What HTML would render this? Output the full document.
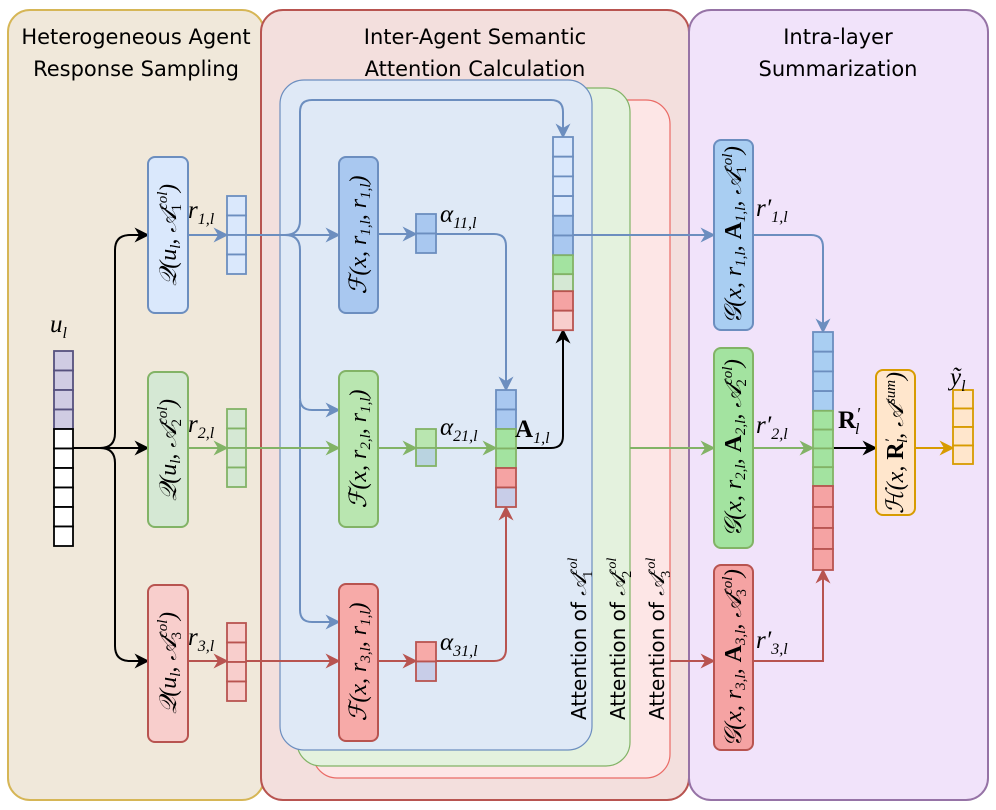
<!DOCTYPE html>
<html><head><meta charset="utf-8"><style>
body{margin:0;background:#fff}
svg{display:block}
.m{font-family:"Liberation Serif",serif;font-style:italic;fill:#000}
.t{font-family:"DejaVu Sans","Liberation Sans",sans-serif;fill:#000}
</style></head><body>
<svg width="996" height="810" viewBox="0 0 996 810" xmlns="http://www.w3.org/2000/svg">
<defs>
<marker id="ag" viewBox="0 0 10 10" refX="9" refY="5" markerWidth="15" markerHeight="15" orient="auto" markerUnits="userSpaceOnUse"><path d="M0,0 L10,5 L0,10 L3,5z" fill="#82b366"/></marker>
<marker id="ar" viewBox="0 0 10 10" refX="9" refY="5" markerWidth="15" markerHeight="15" orient="auto" markerUnits="userSpaceOnUse"><path d="M0,0 L10,5 L0,10 L3,5z" fill="#b85450"/></marker>
<marker id="ak" viewBox="0 0 10 10" refX="9" refY="5" markerWidth="15" markerHeight="15" orient="auto" markerUnits="userSpaceOnUse"><path d="M0,0 L10,5 L0,10 L3,5z" fill="#000"/></marker>
<marker id="ao" viewBox="0 0 10 10" refX="9" refY="5" markerWidth="15" markerHeight="15" orient="auto" markerUnits="userSpaceOnUse"><path d="M0,0 L10,5 L0,10 L3,5z" fill="#d79b00"/></marker>
<marker id="abl" viewBox="0 0 10 10" refX="9" refY="5" markerWidth="15" markerHeight="15" orient="auto" markerUnits="userSpaceOnUse"><path d="M0,0 L10,5 L0,10 L3,5z" fill="#6c8ebf"/></marker>
</defs>
<rect x="8" y="10" width="256" height="790" rx="22" fill="#f0e8da" stroke="#d6b656" stroke-width="2"/>
<rect x="261" y="10" width="428" height="790" rx="22" fill="#f3dfdd" stroke="#b85450" stroke-width="2"/>
<rect x="689" y="10" width="299" height="790" rx="22" fill="#f1e3fa" stroke="#9673a6" stroke-width="2"/>
<g class="t" style="font-size:21px">
<text x="136" y="44" text-anchor="middle">Heterogeneous Agent</text>
<text x="136" y="76" text-anchor="middle">Response Sampling</text>
<text x="475" y="44" text-anchor="middle">Inter-Agent Semantic</text>
<text x="475" y="76" text-anchor="middle">Attention Calculation</text>
<text x="838" y="44" text-anchor="middle">Intra-layer</text>
<text x="838" y="76" text-anchor="middle">Summarization</text>
</g>
<rect x="313" y="100" width="357" height="678" rx="24" fill="#fde6e6" stroke="#ea6b66" stroke-width="1.2"/>
<rect x="297" y="88" width="333" height="678" rx="24" fill="#e4f2de" stroke="#82b366" stroke-width="1.2"/>
<rect x="280" y="80" width="312" height="670" rx="24" fill="#dfe9f6" stroke="#6c8ebf" stroke-width="1.2"/>
<g class="t" style="font-size:20px">
<text transform="translate(586,720) rotate(-90)">Attention of <tspan font-family="Liberation Serif" font-style="italic" font-size="22">𝒜</tspan><tspan font-family="Liberation Serif" font-style="italic" font-size="14" dy="-9">col</tspan><tspan font-family="Liberation Serif" font-size="14" dx="-20" dy="15">1</tspan></text>
<text transform="translate(625,720) rotate(-90)">Attention of <tspan font-family="Liberation Serif" font-style="italic" font-size="22">𝒜</tspan><tspan font-family="Liberation Serif" font-style="italic" font-size="14" dy="-9">col</tspan><tspan font-family="Liberation Serif" font-size="14" dx="-20" dy="15">2</tspan></text>
<text transform="translate(664,720) rotate(-90)">Attention of <tspan font-family="Liberation Serif" font-style="italic" font-size="22">𝒜</tspan><tspan font-family="Liberation Serif" font-style="italic" font-size="14" dy="-9">col</tspan><tspan font-family="Liberation Serif" font-size="14" dx="-20" dy="15">3</tspan></text>
</g>
<g fill="none" stroke="#6c8ebf" stroke-width="2">
<path d="M188,235 H227" marker-end="url(#abl)"/>
<path d="M246,235 H339" marker-end="url(#abl)"/>
<path d="M285,235 Q300,235 300,220 V112 Q300,100 312,100 H551 Q563,100 563,112 V137" marker-end="url(#abl)"/>
<path d="M285,235 Q300,235 300,250 V398 Q300,410 312,410 H339" marker-end="url(#abl)"/>
<path d="M300,400 V610 Q300,622 312,622 H339" marker-end="url(#abl)"/>
<path d="M378,234 H416" marker-end="url(#abl)"/>
<path d="M436,234 H494 Q506,234 506,246 V390" marker-end="url(#abl)"/>
<path d="M573,235 H714" marker-end="url(#abl)"/>
<path d="M753,235 H811 Q823,235 823,247 V332" marker-end="url(#abl)"/>
</g>
<g fill="none" stroke="#82b366" stroke-width="2">
<path d="M188,448 H227" marker-end="url(#ag)"/>
<path d="M246,448 H339" marker-end="url(#ag)"/>
<path d="M378,448 H416" marker-end="url(#ag)"/>
<path d="M436,448 H496" marker-end="url(#ag)"/>
<path d="M630,448 H714" marker-end="url(#ag)"/>
<path d="M753,448 H813" marker-end="url(#ag)"/>
</g>
<g fill="none" stroke="#b85450" stroke-width="2">
<path d="M188,661 H227" marker-end="url(#ar)"/>
<path d="M246,661 H339" marker-end="url(#ar)"/>
<path d="M378,661 H416" marker-end="url(#ar)"/>
<path d="M436,661 H494 Q506,661 506,649 V507" marker-end="url(#ar)"/>
<path d="M670,661 H714" marker-end="url(#ar)"/>
<path d="M753,661 H823 V570" marker-end="url(#ar)"/>
</g>
<g fill="none" stroke="#000" stroke-width="2">
<path d="M73,448 H148" marker-end="url(#ak)"/>
<path d="M100,448 Q115,448 115,433 V250 Q115,235 130,235 H148" marker-end="url(#ak)"/>
<path d="M100,448 Q115,448 115,463 V646 Q115,661 130,661 H148" marker-end="url(#ak)"/>
<path d="M516,448 H551 Q563,448 563,436 V330" marker-end="url(#ak)"/>
<path d="M833,448 H876" marker-end="url(#ak)"/>
</g>
<path d="M915,448 H953" stroke="#d79b00" stroke-width="2" fill="none" marker-end="url(#ao)"/>
<g stroke-width="2">
<rect x="148" y="157" width="40" height="156" rx="7" fill="#dae8fc" stroke="#6c8ebf"/>
<rect x="148" y="372" width="40" height="155" rx="7" fill="#d5e8d4" stroke="#82b366"/>
<rect x="148" y="585" width="40" height="157" rx="7" fill="#f8cecc" stroke="#b85450"/>
<rect x="339" y="157" width="39" height="156" rx="7" fill="#a9c8f0" stroke="#6c8ebf"/>
<rect x="339" y="371" width="39" height="156" rx="7" fill="#b9e6b0" stroke="#82b366"/>
<rect x="339" y="584" width="39" height="157" rx="7" fill="#f7aaa8" stroke="#b85450"/>
<rect x="714" y="140" width="39" height="190" rx="7" fill="#a9cef2" stroke="#6c8ebf"/>
<rect x="714" y="348" width="39" height="200" rx="7" fill="#a3e3a0" stroke="#82b366"/>
<rect x="714" y="565" width="39" height="185" rx="7" fill="#f5a3a3" stroke="#b85450"/>
<rect x="876" y="370" width="39" height="145" rx="7" fill="#ffe6cc" stroke="#d79b00"/>
</g>
<g class="m" style="font-size:24px">
<text transform="translate(176,235) rotate(-90)" text-anchor="middle">𝒬(u<tspan font-size="15" dy="4">l</tspan><tspan dy="-4">, 𝒜</tspan><tspan font-size="15" dy="-9">col</tspan><tspan font-size="15" font-style="normal" dx="-20" dy="14">1</tspan><tspan dx="12" dy="-5">)</tspan></text>
<text transform="translate(176,450) rotate(-90)" text-anchor="middle">𝒬(u<tspan font-size="15" dy="4">l</tspan><tspan dy="-4">, 𝒜</tspan><tspan font-size="15" dy="-9">col</tspan><tspan font-size="15" font-style="normal" dx="-20" dy="14">2</tspan><tspan dx="12" dy="-5">)</tspan></text>
<text transform="translate(176,663) rotate(-90)" text-anchor="middle">𝒬(u<tspan font-size="15" dy="4">l</tspan><tspan dy="-4">, 𝒜</tspan><tspan font-size="15" dy="-9">col</tspan><tspan font-size="15" font-style="normal" dx="-20" dy="14">3</tspan><tspan dx="12" dy="-5">)</tspan></text>
<text transform="translate(366,235) rotate(-90)" text-anchor="middle">ℱ(x, r<tspan font-size="15" dy="4">1,l</tspan><tspan dy="-4">, r</tspan><tspan font-size="15" dy="4">1,l</tspan><tspan dy="-4">)</tspan></text>
<text transform="translate(366,449) rotate(-90)" text-anchor="middle">ℱ(x, r<tspan font-size="15" dy="4">2,l</tspan><tspan dy="-4">, r</tspan><tspan font-size="15" dy="4">1,l</tspan><tspan dy="-4">)</tspan></text>
<text transform="translate(366,662) rotate(-90)" text-anchor="middle">ℱ(x, r<tspan font-size="15" dy="4">3,l</tspan><tspan dy="-4">, r</tspan><tspan font-size="15" dy="4">1,l</tspan><tspan dy="-4">)</tspan></text>
<text transform="translate(741,235) rotate(-90)" text-anchor="middle">𝒢(x, r<tspan font-size="15" dy="4">1,l</tspan><tspan dy="-4">, </tspan><tspan font-weight="bold" font-style="normal">A</tspan><tspan font-size="15" dy="4">1,l</tspan><tspan dy="-4">, 𝒜</tspan><tspan font-size="15" dy="-9">col</tspan><tspan font-size="15" font-style="normal" dx="-20" dy="14">1</tspan><tspan dx="12" dy="-5">)</tspan></text>
<text transform="translate(741,448) rotate(-90)" text-anchor="middle">𝒢(x, r<tspan font-size="15" dy="4">2,l</tspan><tspan dy="-4">, </tspan><tspan font-weight="bold" font-style="normal">A</tspan><tspan font-size="15" dy="4">2,l</tspan><tspan dy="-4">, 𝒜</tspan><tspan font-size="15" dy="-9">col</tspan><tspan font-size="15" font-style="normal" dx="-20" dy="14">2</tspan><tspan dx="12" dy="-5">)</tspan></text>
<text transform="translate(741,658) rotate(-90)" text-anchor="middle">𝒢(x, r<tspan font-size="15" dy="4">3,l</tspan><tspan dy="-4">, </tspan><tspan font-weight="bold" font-style="normal">A</tspan><tspan font-size="15" dy="4">3,l</tspan><tspan dy="-4">, 𝒜</tspan><tspan font-size="15" dy="-9">col</tspan><tspan font-size="15" font-style="normal" dx="-20" dy="14">3</tspan><tspan dx="12" dy="-5">)</tspan></text>
<text transform="translate(903,443) rotate(-90)" text-anchor="middle">ℋ(x, <tspan font-weight="bold" font-style="normal">R</tspan><tspan font-size="15" dy="-8">′</tspan><tspan font-size="15" dx="-4" dy="12">l</tspan><tspan dy="-4">, 𝒜</tspan><tspan font-size="15" dy="-8">sum</tspan><tspan dy="8">)</tspan></text>
</g>
<g stroke-width="1.8">
<g fill="#d0cce3" stroke="#56517e"><rect x="54" y="351" width="19" height="19.5"/><rect x="54" y="370.5" width="19" height="19.5"/><rect x="54" y="390" width="19" height="19.5"/><rect x="54" y="409.5" width="19" height="19.5"/></g>
<g fill="#fff" stroke="#000"><rect x="54" y="429" width="19" height="19.5"/><rect x="54" y="448.5" width="19" height="19.5"/><rect x="54" y="468" width="19" height="19.5"/><rect x="54" y="487.5" width="19" height="19.5"/><rect x="54" y="507" width="19" height="19.5"/><rect x="54" y="526.5" width="19" height="19.5"/></g>
<g fill="#dae8fc" stroke="#6c8ebf"><rect x="227" y="196" width="19" height="19.5"/><rect x="227" y="215.5" width="19" height="19.5"/><rect x="227" y="235" width="19" height="19.5"/><rect x="227" y="254.5" width="19" height="19.5"/></g>
<g fill="#d5e8d4" stroke="#82b366"><rect x="227" y="409" width="19" height="19.5"/><rect x="227" y="428.5" width="19" height="19.5"/><rect x="227" y="448" width="19" height="19.5"/><rect x="227" y="467.5" width="19" height="19.5"/></g>
<g fill="#f8cecc" stroke="#b85450"><rect x="227" y="623" width="19" height="19.5"/><rect x="227" y="642.5" width="19" height="19.5"/><rect x="227" y="662" width="19" height="19.5"/><rect x="227" y="681.5" width="19" height="19.5"/></g>
<g fill="#a9c8f0" stroke="#6c8ebf"><rect x="416" y="214" width="20" height="19.5"/><rect x="416" y="233.5" width="20" height="19.5"/></g>
<rect x="416" y="429" width="20" height="19" fill="#b9e6b0" stroke="#82b366"/><rect x="416" y="448" width="20" height="18" fill="#b9d3e0" stroke="#82b366"/>
<rect x="416" y="642" width="20" height="19.5" fill="#f7aaa8" stroke="#b85450"/><rect x="416" y="661.5" width="20" height="19.5" fill="#c8cde8" stroke="#b85450"/>
<g fill="#a9c8f0" stroke="#6c8ebf"><rect x="496" y="390" width="20" height="19.5"/><rect x="496" y="409.5" width="20" height="19.5"/></g>
<g fill="#a3e3a0" stroke="#82b366"><rect x="496" y="429" width="20" height="19.5"/><rect x="496" y="448.5" width="20" height="19.5"/></g>
<rect x="496" y="468" width="20" height="19.5" fill="#f5a3a3" stroke="#b85450"/><rect x="496" y="487.5" width="20" height="19.5" fill="#c8cde8" stroke="#b85450"/>
<g fill="#dae8fc" stroke="#6c8ebf"><rect x="553" y="137" width="20" height="19.7"/><rect x="553" y="156.7" width="20" height="19.7"/><rect x="553" y="176.4" width="20" height="19.7"/><rect x="553" y="196.1" width="20" height="19.7"/></g>
<g fill="#a9c8f0" stroke="#6c8ebf"><rect x="553" y="215.8" width="20" height="19.7"/><rect x="553" y="235.5" width="20" height="19.7"/></g>
<rect x="553" y="255.2" width="20" height="19" fill="#a3e3a0" stroke="#82b366"/><rect x="553" y="274.2" width="20" height="17" fill="#d5e8d4" stroke="#82b366"/>
<rect x="553" y="291.2" width="20" height="19.5" fill="#f5a3a3" stroke="#b85450"/><rect x="553" y="310.7" width="20" height="19.5" fill="#f8cecc" stroke="#b85450"/>
<g fill="#a9cef2" stroke="#6c8ebf"><rect x="813" y="332" width="20" height="19.7"/><rect x="813" y="351.7" width="20" height="19.7"/><rect x="813" y="371.4" width="20" height="19.7"/><rect x="813" y="391.1" width="20" height="19.7"/></g>
<g fill="#a3e3a0" stroke="#82b366"><rect x="813" y="410.8" width="20" height="18.8"/><rect x="813" y="429.6" width="20" height="18.8"/><rect x="813" y="448.4" width="20" height="18.8"/><rect x="813" y="467.2" width="20" height="18.8"/></g>
<g fill="#f5a3a3" stroke="#b85450"><rect x="813" y="486" width="20" height="21"/><rect x="813" y="507" width="20" height="21"/><rect x="813" y="528" width="20" height="21"/><rect x="813" y="549" width="20" height="21"/></g>
<g fill="#ffe6cc" stroke="#d79b00"><rect x="953" y="390" width="20" height="18.5"/><rect x="953" y="408.5" width="20" height="18.5"/><rect x="953" y="427" width="20" height="18.5"/><rect x="953" y="445.5" width="20" height="18.5"/></g>
</g>
<g class="m" style="font-size:25px">
<text x="50" y="332">u<tspan font-size="16" dy="6">l</tspan></text>
<text x="188" y="218">r<tspan font-size="16" dy="6">1,l</tspan></text>
<text x="188" y="432">r<tspan font-size="16" dy="6">2,l</tspan></text>
<text x="188" y="645">r<tspan font-size="16" dy="6">3,l</tspan></text>
<text x="440" y="222">α<tspan font-size="16" dy="6">11,l</tspan></text>
<text x="440" y="435">α<tspan font-size="16" dy="6">21,l</tspan></text>
<text x="440" y="650">α<tspan font-size="16" dy="6">31,l</tspan></text>
<text x="515" y="437" font-style="normal" font-weight="bold">A<tspan font-size="16" font-weight="normal" font-style="italic" dy="6">1,l</tspan></text>
<text x="756" y="216">r′<tspan font-size="16" dy="6">1,l</tspan></text>
<text x="756" y="433">r′<tspan font-size="16" dy="6">2,l</tspan></text>
<text x="756" y="648">r′<tspan font-size="16" dy="6">3,l</tspan></text>
<text x="838" y="428" font-style="normal" font-weight="bold">R<tspan font-weight="normal" font-style="italic" font-size="18" dy="-8">′</tspan><tspan font-size="16" font-style="italic" font-weight="normal" dx="-5" dy="14">l</tspan></text>
<text x="950" y="385">ỹ<tspan font-size="16" dy="6">l</tspan></text>
</g>
</svg>
</body></html>
